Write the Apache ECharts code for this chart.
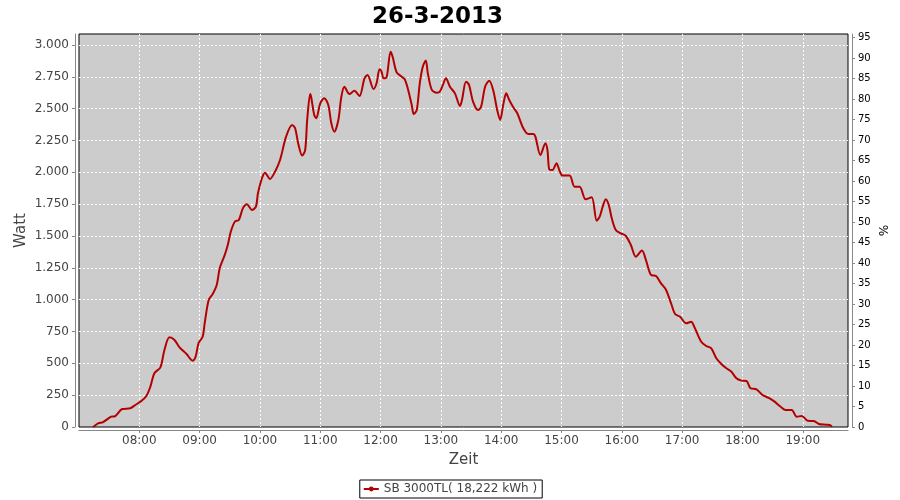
<!DOCTYPE html>
<html><head><meta charset="utf-8">
<script src="https://cdn.jsdelivr.net/npm/echarts@6/dist/echarts.min.js"></script>
<style>html,body{margin:0;padding:0;background:#fff}#c{width:900px;height:500px}</style>
</head><body><div id="c"></div>
<script>
const chartTitle = "26-3-2013";
const seriesName = "SB 3000TL( 18,222 kWh )";
const xStart = "07:00";
const xEnd = "19:45";
const times = ["07:14","07:19","07:24","07:32","07:36","07:43","07:51","07:56","08:02","08:07",
"08:11","08:15","08:21","08:25","08:30","08:35","08:40","08:47","08:53","08:56",
"08:59","09:03","09:05","09:09","09:13","09:17","09:20","09:25","09:28","09:31",
"09:35","09:39","09:43","09:47","09:52","09:56","09:58","10:02","10:05","10:10",
"10:15","10:20","10:26","10:32","10:35","10:38","10:42","10:45","10:47","10:50",
"10:51","10:54","10:56","11:00","11:04","11:08","11:11","11:14","11:18","11:21",
"11:24","11:29","11:34","11:39","11:44","11:47","11:53","11:56","11:59","12:01",
"12:03","12:06","12:10","12:12","12:16","12:21","12:24","12:27","12:31","12:33",
"12:36","12:39","12:42","12:45","12:47","12:51","12:56","12:59","13:02","13:05",
"13:09","13:14","13:19","13:21","13:25","13:28","13:32","13:37","13:40","13:44",
"13:48","13:52","13:56","13:59","14:02","14:05","14:08","14:12","14:16","14:22",
"14:27","14:32","14:34","14:39","14:44","14:46","14:48","14:51","14:55","14:58",
"15:01","15:08","15:13","15:18","15:24","15:30","15:35","15:38","15:41","15:44",
"15:47","15:50","15:54","15:59","16:04","16:09","16:14","16:20","16:24","16:29",
"16:34","16:39","16:44","16:49","16:53","16:58","17:04","17:09","17:12","17:19",
"17:24","17:29","17:34","17:39","17:44","17:49","17:54","17:59","18:04","18:08",
"18:14","18:20","18:27","18:32","18:38","18:43","18:49","18:54","18:59","19:05",
"19:11","19:16","19:23","19:27","19:29"];
const watts = [0,29,39,81,86,141,147,173,204,243,
317,422,469,605,704,683,626,573,521,552,
660,709,814,997,1044,1115,1246,1351,1429,1534,
1612,1626,1717,1749,1704,1730,1835,1953,1997,1948,
2005,2097,2280,2372,2346,2228,2131,2175,2411,2615,
2589,2450,2424,2542,2581,2529,2385,2319,2411,2594,
2672,2615,2641,2599,2738,2764,2654,2699,2809,2790,
2738,2746,2947,2908,2785,2751,2730,2660,2529,2458,
2489,2699,2829,2877,2778,2647,2625,2633,2686,2738,
2672,2620,2521,2568,2712,2686,2555,2489,2515,2672,
2719,2647,2489,2411,2529,2620,2568,2511,2464,2346,
2301,2301,2280,2136,2228,2175,2020,2018,2071,2013,
1974,1974,1887,1887,1788,1804,1620,1652,1730,1788,
1743,1639,1547,1521,1500,1429,1337,1385,1311,1194,
1186,1128,1076,971,887,866,814,827,788,670,
636,618,540,495,461,434,382,364,361,304,
296,251,225,199,159,134,134,81,86,49,
47,24,18,16,2];

const FONT = "DejaVu Sans";
function toMin(s){const p=s.split(':');return (+p[0])*60+(+p[1]);}
function fmtTime(m){const h=Math.floor(m/60),mm=Math.round(m%60);return String(h).padStart(2,'0')+':'+String(mm).padStart(2,'0');}
function fmtDE(v){return String(Math.round(v)).replace(/\B(?=(\d{3})+(?!\d))/g,'.');}
const data = times.map((t,i)=>[toMin(t), watts[i]]);

const chart = echarts.init(document.getElementById('c'), null, {renderer:'canvas'});
chart.setOption({
  animation:false,
  backgroundColor:'#ffffff',
  title:{text:chartTitle,left:367,top:1,textStyle:{fontFamily:FONT,fontWeight:'bold',fontSize:23,color:'#000'}},
  legend:{bottom:2,left:'center',borderColor:'#000',borderWidth:1,padding:[3,5,3,3],itemWidth:15,itemHeight:6,
    textStyle:{fontFamily:FONT,fontSize:12,color:'#444'},data:[seriesName]},
  grid:{left:79,right:52,top:34,bottom:73,show:true,backgroundColor:'#cccccc',borderColor:'#000',borderWidth:1,containLabel:false,outerBoundsMode:'none'},
  xAxis:{type:'value',min:toMin(xStart),max:toMin(xEnd),interval:60,offset:3,
    axisLine:{show:true,onZero:false,lineStyle:{color:'#888',width:1}},
    axisTick:{show:true,length:3,lineStyle:{color:'#888'}},
    axisLabel:{showMinLabel:false,showMaxLabel:false,formatter:v=>fmtTime(v),color:'#444',fontFamily:FONT,fontSize:12,margin:5},
    splitLine:{show:true,showMinLine:false,showMaxLine:false,lineStyle:{color:'#fff',type:[2,2],width:1}},
    name:'Zeit',nameLocation:'middle',nameGap:23,nameMoveOverlap:false,nameTextStyle:{fontFamily:FONT,fontSize:15,color:'#444'}},
  yAxis:[
    {type:'value',position:'left',min:0,max:3086,interval:250,offset:4,
     axisLine:{show:true,lineStyle:{color:'#888',width:1}},
     axisTick:{show:true,length:3,lineStyle:{color:'#888'}},
     axisLabel:{showMaxLabel:false,formatter:v=>fmtDE(v),color:'#444',fontFamily:FONT,fontSize:12,margin:6},
     splitLine:{show:true,showMinLine:false,showMaxLine:false,lineStyle:{color:'#fff',type:[2,2],width:1}},
     name:'Watt',nameLocation:'middle',nameRotate:90,nameGap:46,nameMoveOverlap:false,nameTextStyle:{fontFamily:FONT,fontSize:15,color:'#444'}},
    {type:'value',position:'right',min:0,max:95.9,interval:5,offset:4,
     axisLine:{show:true,lineStyle:{color:'#888',width:1}},
     axisTick:{show:true,length:3,lineStyle:{color:'#888'}},
     axisLabel:{showMaxLabel:false,color:'#000',fontFamily:FONT,fontSize:10,margin:6},
     splitLine:{show:false},
     name:'%',nameLocation:'middle',nameRotate:-90,nameGap:24,nameMoveOverlap:false,nameTextStyle:{fontFamily:FONT,fontSize:12,color:'#000'}}
  ],
  series:[{name:seriesName,type:'line',yAxisIndex:0,data:data,smooth:0.3,symbol:'none',showSymbol:false,
    lineStyle:{color:'#b40000',width:2},itemStyle:{color:'#b40000'}}]
});
</script></body></html>
